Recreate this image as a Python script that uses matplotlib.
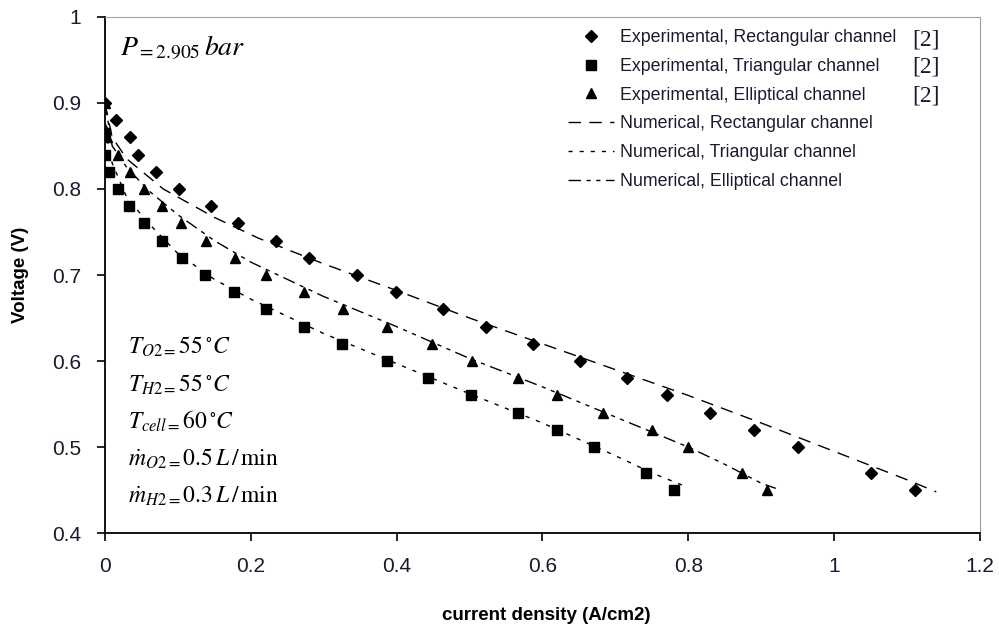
import numpy as np
import matplotlib.pyplot as plt

plt.rcParams['font.family'] = ['Liberation Sans', 'DejaVu Sans']
plt.rcParams['mathtext.fontset'] = 'stix'

rect_i = [0, 0.015, 0.034, 0.045, 0.07, 0.101, 0.145, 0.182, 0.235, 0.28, 0.346, 0.399,
          0.463, 0.522, 0.587, 0.652, 0.716, 0.771, 0.83, 0.89, 0.951, 1.051, 1.111]
rect_v = [0.9, 0.88, 0.86, 0.84, 0.82, 0.8, 0.78, 0.76, 0.74, 0.72, 0.7, 0.68,
          0.66, 0.64, 0.62, 0.6, 0.58, 0.56, 0.54, 0.52, 0.5, 0.47, 0.45]
tri_i = [0, 0, 0.005, 0.018, 0.033, 0.053, 0.078, 0.106, 0.137, 0.177, 0.221, 0.273,
         0.325, 0.387, 0.443, 0.502, 0.567, 0.62, 0.671, 0.742, 0.78]
tri_v = [0.865, 0.84, 0.82, 0.8, 0.78, 0.76, 0.74, 0.72, 0.7, 0.68, 0.66, 0.64,
         0.62, 0.6, 0.58, 0.56, 0.54, 0.52, 0.5, 0.47, 0.45]
ell_i = [0, 0, 0.003, 0.018, 0.034, 0.054, 0.078, 0.105, 0.138, 0.178, 0.221, 0.273,
         0.326, 0.387, 0.448, 0.503, 0.567, 0.62, 0.683, 0.75, 0.8, 0.874, 0.908]
ell_v = [0.9, 0.87, 0.86, 0.84, 0.82, 0.8, 0.78, 0.76, 0.74, 0.72, 0.7, 0.68,
         0.66, 0.64, 0.62, 0.6, 0.58, 0.56, 0.54, 0.52, 0.5, 0.47, 0.45]

# numerical curves
num_rect_i = [0, 0.01, 0.03, 0.08, 0.15, 0.21, 0.3, 0.4, 0.5, 0.6, 0.7, 0.8, 0.9, 1.0, 1.1, 1.14]
num_rect_v = [0.9, 0.86, 0.835, 0.8, 0.767, 0.743, 0.713, 0.682, 0.65, 0.62, 0.59, 0.56,
              0.528, 0.495, 0.462, 0.448]
num_tri_i = [0, 0.01, 0.03, 0.06, 0.1, 0.15, 0.2, 0.3, 0.4, 0.5, 0.6, 0.7, 0.75, 0.8]
num_tri_v = [0.87, 0.83, 0.79, 0.76, 0.725, 0.695, 0.672, 0.632, 0.597, 0.562, 0.528,
             0.49, 0.47, 0.453]
num_ell_i = [0, 0.01, 0.03, 0.06, 0.1, 0.15, 0.2, 0.3, 0.4, 0.5, 0.6, 0.7, 0.8, 0.85, 0.9, 0.92]
num_ell_v = [0.9, 0.85, 0.825, 0.798, 0.77, 0.74, 0.715, 0.675, 0.64, 0.603, 0.57, 0.535,
             0.5, 0.48, 0.458, 0.452]

fig = plt.figure(figsize=(9.99, 6.25), dpi=100)
ax = fig.add_axes([0.105, 0.147, 0.876, 0.826])

ax.plot(rect_i, rect_v, 'D', color='black', ms=6, label='Experimental, Rectangular channel')
ax.plot(tri_i, tri_v, 's', color='black', ms=7, label='Experimental, Triangular channel')
ax.plot(ell_i, ell_v, '^', color='black', ms=7.5, label='Experimental, Elliptical channel')
ax.plot(num_rect_i, num_rect_v, color='black', lw=1, dashes=(9, 6),
        label='Numerical, Rectangular channel')
ax.plot(num_tri_i, num_tri_v, color='black', lw=1, dashes=(3, 5),
        label='Numerical, Triangular channel')
ax.plot(num_ell_i, num_ell_v, color='black', lw=1, dashes=(9, 4, 3, 4, 3, 4),
        label='Numerical, Elliptical channel')

ax.set_xlim(0, 1.2)
ax.set_ylim(0.4, 1.0)
ax.set_xticks(np.arange(0, 1.21, 0.2))
ax.set_xticklabels(['0', '0.2', '0.4', '0.6', '0.8', '1', '1.2'])
ax.set_yticks(np.arange(0.4, 1.01, 0.1))
ax.set_yticklabels(['0.4', '0.5', '0.6', '0.7', '0.8', '0.9', '1'])
ax.tick_params(direction='out', length=6, width=1.2, labelsize=15, pad=11,
               colors='black', labelcolor='#1a1a2e')
ax.spines['top'].set_color('#a0a0a0')
ax.spines['right'].set_color('#a0a0a0')
ax.spines['left'].set_linewidth(1.3)
ax.spines['bottom'].set_linewidth(1.3)

fig.text(0.021, 0.56, 'Voltage (V)', rotation=90, ha='center', va='center',
         fontsize=13.5, fontweight='bold')
fig.text(0.547, 0.016, 'current density (A/cm2)', ha='center', va='center',
         fontsize=13.5, fontweight='bold')

leg = ax.legend(loc='upper left', bbox_to_anchor=(0.521, 0.99), frameon=False,
                fontsize=12.8, handlelength=2.6, handletextpad=0.3, labelspacing=0.66,
                borderaxespad=0)
for t in leg.get_texts():
    t.set_color('#1a1a2e')

for y in [0.956, 0.903, 0.846]:
    ax.text(0.922, y, '[2]', transform=ax.transAxes, fontsize=17,
            family='Liberation Serif', va='center', color='#1a1a2e')

ax.text(0.017, 0.94, r'$P_{=2.905}\,bar$', transform=ax.transAxes, fontsize=20, va='center')
notes = [r'$T_{O2=}55\,^{\circ}C$', r'$T_{H2=}55\,^{\circ}C$',
         r'$T_{cell=}60\,^{\circ}C$', r'$\dot{m}_{O2=}0.5\,L\,/\,\min$',
         r'$\dot{m}_{H2=}0.3\,L\,/\,\min$']
for k, s in enumerate(notes):
    ax.text(0.026, 0.36 - k * 0.072, s, transform=ax.transAxes, fontsize=17, va='center')

fig.savefig('out.png', dpi=100)
